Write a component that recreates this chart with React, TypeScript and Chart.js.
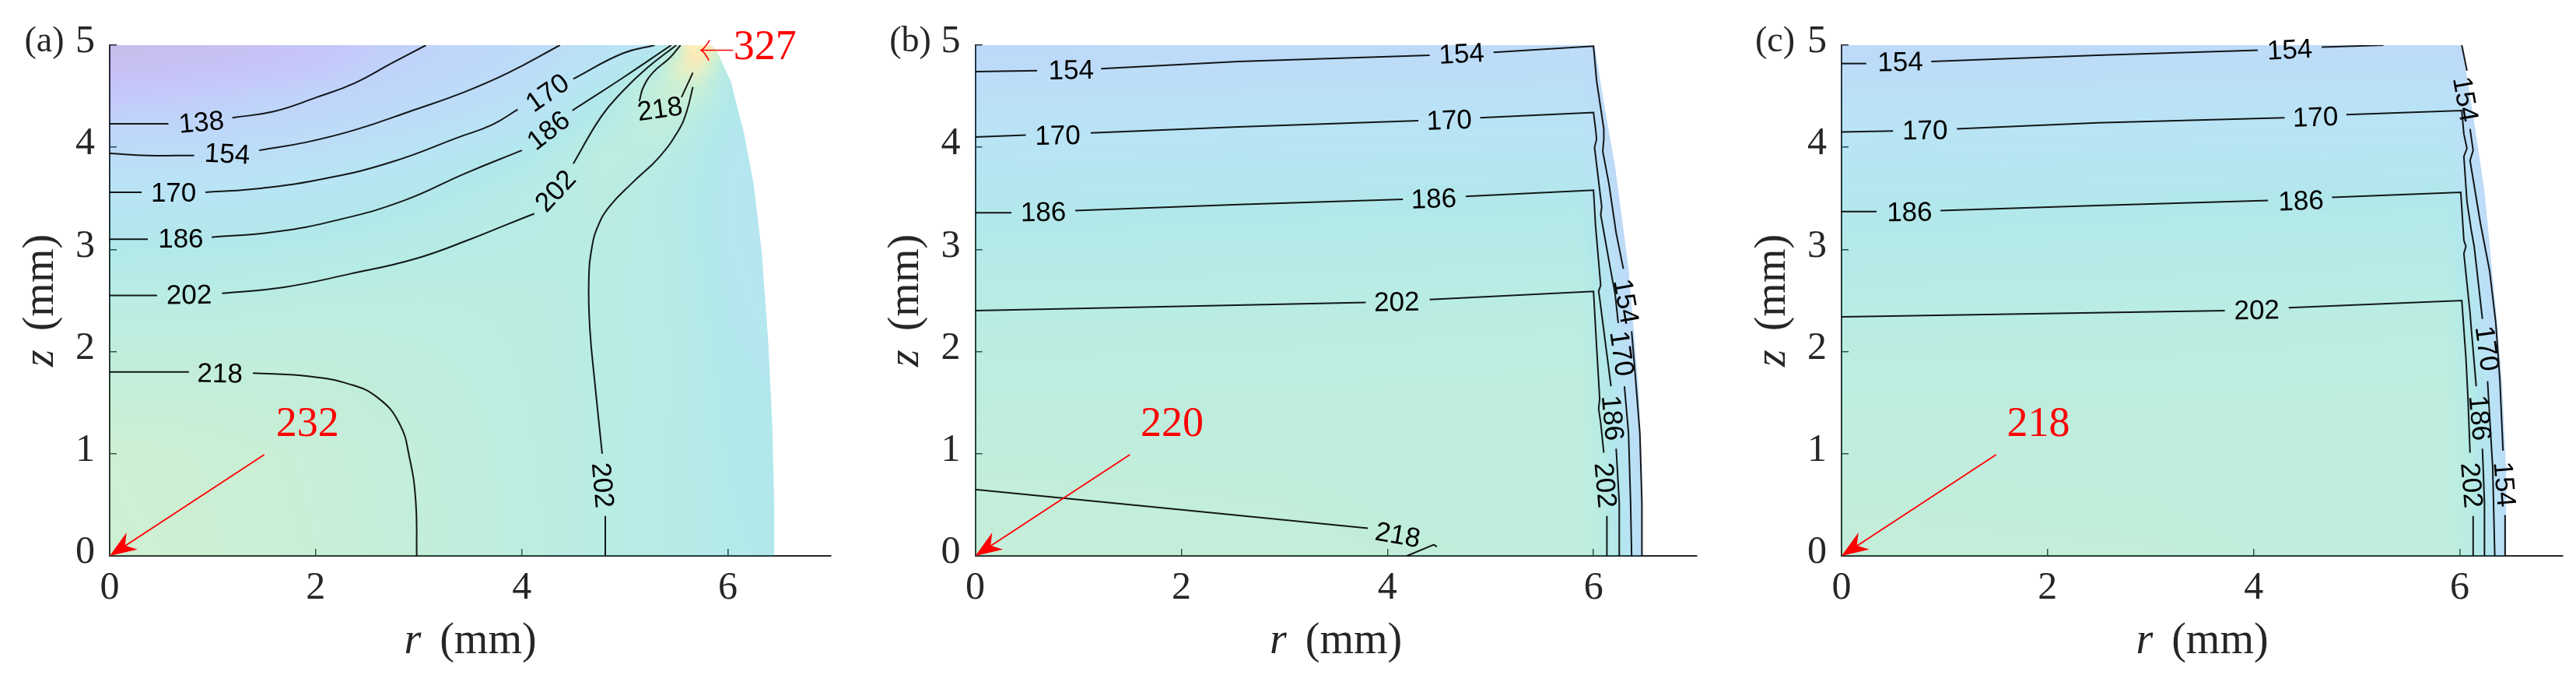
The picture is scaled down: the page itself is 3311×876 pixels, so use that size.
import React, { useEffect, useRef } from "react";
import { Chart, registerables } from "chart.js";

Chart.register(...registerables);

// ---- colour scale (temperature -> saturated colour, painted with fieldAlpha)
const stopT = [120, 128, 138, 154, 170, 186, 202, 218, 232, 255, 275, 300, 327];
const stopColor = [
  [72, 38, 188], [66, 60, 238], [45, 112, 238], [35, 138, 232], [22, 165, 222], [0, 178, 192],
  [22, 192, 165], [55, 198, 132], [98, 205, 105], [188, 205, 55], [255, 165, 5], [255, 205, 38], [255, 238, 55],
];
const fieldAlpha = 77;

// ---- panel (a)
const aFieldR = [0, 1, 2, 3, 4, 4.8, 5.3, 5.5, 5.7, 6, 6.5];
const aFieldZ = [0, 1, 1.8, 2.55, 3.1, 3.56, 3.93, 4.24, 4.6, 4.8, 5];
const aField = [
  [232, 228, 224, 218, 208, 202, 198, 196, 195, 190, 188],
  [230, 227, 223, 217, 207, 202, 198, 196, 194, 189, 186],
  [218, 218, 217, 212, 206, 202, 199, 197, 194, 187, 184],
  [202, 202, 205, 206, 205, 202, 198, 196, 192, 184, 178],
  [186, 187, 190, 196, 200, 203, 198, 195, 190, 182, 176],
  [170, 172, 177, 185, 197, 206, 198, 194, 190, 182, 176],
  [154, 156, 163, 172, 186, 208, 204, 198, 192, 183, 176],
  [138, 141, 148, 157, 171, 196, 216, 212, 198, 186, 178],
  [128, 131, 135, 145, 158, 183, 218, 232, 228, 190, 180],
  [123, 126, 130, 140, 153, 172, 196, 245, 265, 192, 182],
  [120, 122, 128, 137, 150, 165, 172, 205, 327, 195, 185],
];
const aOutlineR = [6.45, 6.45, 6.43, 6.39, 6.33, 6.25, 6.16, 6.03, 5.89, 5.84];
const aOutlineZ = [0, 0.5, 1.31, 2.12, 2.96, 3.64, 4.12, 4.64, 4.95, 5];
const a138 = [
  [[0, 4.23], [0.57, 4.23]],
  [[1.19, 4.29], [1.59, 4.35], [2.01, 4.49], [2.38, 4.63], [2.73, 4.82], [3.07, 5]],
];
const a154 = [
  [[0, 3.94], [0.37, 3.92], [0.82, 3.92]],
  [[1.45, 3.97], [1.91, 4.05], [2.38, 4.17], [2.91, 4.35], [3.44, 4.54], [3.87, 4.73], [4.37, 5]],
];
const a170 = [
  [[0, 3.56], [0.31, 3.56]],
  [[0.93, 3.56], [1.48, 3.6], [2.12, 3.7], [2.75, 3.86], [3.39, 4.1], [3.71, 4.22], [3.96, 4.37]],
  [[4.5, 4.67], [4.98, 4.92], [5.29, 5]],
];
const a186 = [
  [[0, 3.1], [0.37, 3.1]],
  [[0.99, 3.12], [1.59, 3.17], [2.22, 3.29], [2.86, 3.48], [3.44, 3.74], [4, 3.97]],
  [[4.49, 4.36], [4.98, 4.68], [5.45, 5]],
];
const a202 = [
  [[0, 2.55], [0.46, 2.55]],
  [[1.09, 2.57], [1.69, 2.63], [2.33, 2.76], [2.97, 2.91], [3.5, 3.1], [3.87, 3.25], [4.12, 3.35]],
  [[4.5, 3.84], [4.77, 4.3], [4.98, 4.55], [5.22, 4.78], [5.5, 5]],
  [[5.66, 4.59], [5.6, 4.35], [5.53, 4.18], [5.33, 3.9], [5.07, 3.65], [4.85, 3.42], [4.74, 3.23], [4.68, 3.02], [4.65, 2.7], [4.66, 2.23], [4.71, 1.68], [4.78, 1]],
  [[4.81, 0.39], [4.81, 0]],
];
const a218 = [
  [[0, 1.8], [0.77, 1.8]],
  [[1.39, 1.79], [1.91, 1.76], [2.33, 1.68], [2.6, 1.55], [2.81, 1.3], [2.91, 0.96], [2.97, 0.54], [2.98, 0]],
  [[5.54, 5], [5.43, 4.87], [5.28, 4.74], [5.18, 4.59], [5.14, 4.45]],
  [[5.55, 4.49], [5.66, 4.73]],
];
const aLabels: [string, number, number, number][] = [
  ["138", 0.89, 4.24, -5], ["154", 1.14, 3.93, 3], ["170", 0.62, 3.55, 0], ["186", 0.69, 3.1, 0],
  ["202", 0.77, 2.55, -1], ["218", 1.07, 1.78, 1], ["170", 4.25, 4.53, -35], ["186", 4.26, 4.16, -38],
  ["202", 4.33, 3.57, -47], ["218", 5.34, 4.37, -8], ["202", 4.78, 0.69, 85],
];

// ---- panel (b)
const bFieldR = [0, 3, 5.9, 6.1, 6.2, 6.3, 6.4, 6.5];
const bFieldZ = [0, 0.65, 1.5, 2.4, 3.36, 4.08, 4.74, 5];
const bField = [
  [220, 219, 213, 204, 193, 180, 165, 150],
  [218, 216, 210, 203, 186, 176, 163, 152],
  [210, 211, 212, 197, 183, 171, 158, 150],
  [202, 203, 205, 186, 172, 156, 150, 150],
  [186, 188, 190, 168, 155, 150, 150, 150],
  [170, 172, 173, 155, 150, 150, 150, 150],
  [154, 156, 158, 150, 150, 150, 150, 150],
  [148, 150, 153, 150, 150, 150, 150, 150],
];
const bOutlineR = [6.47, 6.47, 6.44, 6.34, 6.21, 6.11, 6.01];
const bOutlineZ = [0, 0.86, 1.61, 2.82, 3.81, 4.38, 5];
const b154 = [
  [[0, 4.74], [0.6, 4.75]],
  [[1.22, 4.77], [2.55, 4.84], [4.41, 4.9]],
  [[5.03, 4.93], [6, 4.99], [6.03, 4.65], [6.1, 4.18], [6.1, 4.08], [6.09, 3.96], [6.15, 3.64], [6.22, 3.16], [6.29, 2.81]],
  [[6.37, 2.2], [6.41, 1.71], [6.45, 1.2], [6.47, 0.52], [6.47, 0]],
];
const b170 = [
  [[0, 4.1], [0.49, 4.12]],
  [[1.12, 4.14], [2.55, 4.2], [4.3, 4.26]],
  [[4.9, 4.29], [6, 4.34], [6.02, 4.18], [6.03, 4.08], [6.01, 4], [6.07, 3.5], [6.08, 3.42], [6.07, 3.34], [6.15, 2.89], [6.21, 2.56], [6.24, 2.28]],
  [[6.3, 1.66], [6.34, 1.2], [6.36, 0.52], [6.37, 0]],
];
const b186 = [
  [[0, 3.36], [0.35, 3.36]],
  [[0.97, 3.38], [2.55, 3.44], [4.15, 3.49]],
  [[4.76, 3.52], [6, 3.58], [6.02, 3.23], [6.06, 2.76], [6.07, 2.65], [6.05, 2.59], [6.06, 2.52], [6.12, 2.05], [6.17, 1.66]],
  [[6.22, 1.05], [6.25, 0.52], [6.25, 0]],
];
const b202 = [
  [[0, 2.4], [3.79, 2.48]],
  [[4.41, 2.51], [6, 2.59], [6.03, 2.05], [6.06, 1.54], [6.05, 1.44], [6.07, 1.3], [6.1, 1.01]],
  [[6.13, 0.39], [6.13, 0]],
];
const b218 = [
  [[0, 0.65], [2.02, 0.45], [3.81, 0.27]],
  [[4.19, 0], [4.45, 0.11], [4.48, 0.09]],
];
const bLabels: [string, number, number, number][] = [
  ["154", 0.93, 4.75, -1], ["154", 4.72, 4.91, -3], ["170", 0.8, 4.11, -1], ["170", 4.6, 4.26, -2],
  ["186", 0.66, 3.36, -1], ["186", 4.45, 3.49, -2], ["202", 4.09, 2.48, -1], ["218", 4.1, 0.2, 10],
  ["154", 6.31, 2.49, 80], ["170", 6.27, 1.98, 82], ["186", 6.18, 1.35, 85], ["202", 6.11, 0.69, 85],
];

// ---- panel (c)
const cFieldR = [0, 3, 5.9, 6.1, 6.2, 6.3, 6.4, 6.5];
const cFieldZ = [0, 0.65, 1.5, 2.34, 3.37, 4.15, 4.82, 5];
const cField = [
  [218, 217, 212, 204, 192, 178, 162, 150],
  [216, 215, 210, 203, 186, 175, 162, 152],
  [210, 210, 211, 197, 183, 171, 158, 150],
  [202, 203, 205, 186, 172, 156, 150, 150],
  [186, 188, 190, 170, 156, 150, 150, 150],
  [170, 172, 173, 155, 150, 150, 150, 150],
  [154, 156, 157, 150, 150, 150, 150, 150],
  [150, 152, 153, 150, 150, 150, 150, 150],
];
const cOutlineR = [6.45, 6.45, 6.41, 6.35, 6.24, 6.14, 6.02];
const cOutlineZ = [0, 0.86, 1.71, 2.42, 3.57, 4.25, 5];
const c154 = [
  [[0, 4.82], [0.24, 4.82]],
  [[0.87, 4.84], [2.48, 4.9], [4.04, 4.95]],
  [[4.66, 4.98], [5.26, 5]],
  [[6.02, 5], [6.07, 4.75]],
  [[6.1, 4.18], [6.13, 3.97], [6.1, 3.87], [6.2, 3.26], [6.29, 2.79], [6.35, 2.28], [6.39, 1.71], [6.42, 1.03]],
  [[6.44, 0.4], [6.44, 0]],
];
const c170 = [
  [[0, 4.15], [0.5, 4.16]],
  [[1.12, 4.18], [2.48, 4.24], [4.3, 4.29]],
  [[4.9, 4.32], [6.02, 4.36], [6.04, 4.13], [6.07, 3.99], [6.04, 3.91], [6.07, 3.47], [6.11, 3.2], [6.14, 3.03], [6.22, 2.32]],
  [[6.27, 1.71], [6.32, 0.86], [6.34, 0]],
];
const c186 = [
  [[0, 3.37], [0.34, 3.37]],
  [[0.96, 3.38], [2.48, 3.43], [4.14, 3.48]],
  [[4.76, 3.51], [6.01, 3.56], [6.04, 3.09], [6.06, 3.03], [6.04, 2.96], [6.1, 2.38], [6.11, 2.25], [6.16, 1.66]],
  [[6.22, 1.05], [6.24, 0.52], [6.24, 0]],
];
const c202 = [
  [[0, 2.34], [3.72, 2.4]],
  [[4.34, 2.43], [6.02, 2.5], [6.06, 1.94], [6.08, 1.54], [6.1, 1.01]],
  [[6.13, 0.39], [6.13, 0]],
];
const cLabels: [string, number, number, number][] = [
  ["154", 0.57, 4.83, -1], ["154", 4.35, 4.95, -3], ["170", 0.81, 4.16, -1], ["170", 4.6, 4.29, -2],
  ["186", 0.66, 3.36, -1], ["186", 4.46, 3.47, -2], ["202", 4.03, 2.4, -1],
  ["154", 6.05, 4.47, 80], ["170", 6.26, 2.03, 82], ["186", 6.19, 1.35, 85], ["202", 6.11, 0.69, 85], ["154", 6.43, 0.7, 85],
];

const xTickStep = 2;
const yTickStep = 1;

const inkColor = "rgb(38,38,38)";
const serif = '"Liberation Serif", serif';
const labelSans = '"Liberation Sans", Arial, sans-serif';

function colorFor(t: number) {
  let i = 0;
  while (i < stopT.length - 2 && t > stopT[i + 1]) i++;
  const f = Math.max(0, Math.min(1, (t - stopT[i]) / (stopT[i + 1] - stopT[i])));
  return stopColor[i].map((c, k) => c + (stopColor[i + 1][k] - c) * f);
}

function segIndex(arr: number[], v: number) {
  let i = 0;
  while (i < arr.length - 2 && v > arr[i + 1]) i++;
  return i;
}

const panels = [
  {
    tag: "(a)", left: 0, width: 1100, axisLeft: 141, tagX: 57, blur: 6,
    fieldR: aFieldR, fieldZ: aFieldZ, field: aField, outlineR: aOutlineR, outlineZ: aOutlineZ,
    contours: [a138, a154, a170, a186, a202, a218], labels: aLabels, tension: 0.45,
    maxText: "232", maxR: 1.92, hotText: "327", hotR: 5.74, hotZ: 4.95,
  },
  {
    tag: "(b)", left: 1100, width: 1110, axisLeft: 153.6, tagX: 70, blur: 2,
    fieldR: bFieldR, fieldZ: bFieldZ, field: bField, outlineR: bOutlineR, outlineZ: bOutlineZ,
    contours: [b154, b170, b186, b202, b218], labels: bLabels, tension: 0,
    maxText: "220", maxR: 1.91,
  },
  {
    tag: "(c)", left: 2210, width: 1101, axisLeft: 157, tagX: 71.5, blur: 2,
    fieldR: cFieldR, fieldZ: cFieldZ, field: cField, outlineR: cOutlineR, outlineZ: cOutlineZ,
    contours: [c154, c170, c186, c202], labels: cLabels, tension: 0,
    maxText: "218", maxR: 1.91,
  },
];

// paints the temperature field inside the drop outline
const fieldPlugin = {
  id: "fieldPlugin",
  beforeDatasetsDraw(chart: any, _args: any, opts: any) {
    const { ctx, chartArea, scales } = chart;
    const { fieldR, fieldZ, field, outlineR, outlineZ, blur } = opts.panel;
    const margin = 30;
    const w = Math.ceil(chartArea.width) + margin * 2;
    const h = Math.ceil(chartArea.height) + margin * 2;
    const off = document.createElement("canvas");
    off.width = w;
    off.height = h;
    const octx = off.getContext("2d")!;
    const img = octx.createImageData(w, h);
    for (let py = 0; py < h; py++) {
      const z = scales.y.getValueForPixel(chartArea.top - margin + py + 0.5);
      const j = segIndex(fieldZ, z);
      const fz = Math.max(0, Math.min(1, (z - fieldZ[j]) / (fieldZ[j + 1] - fieldZ[j])));
      for (let px = 0; px < w; px++) {
        const r = scales.x.getValueForPixel(chartArea.left - margin + px + 0.5);
        const i = segIndex(fieldR, r);
        const fr = Math.max(0, Math.min(1, (r - fieldR[i]) / (fieldR[i + 1] - fieldR[i])));
        const t =
          field[j][i] * (1 - fr) * (1 - fz) +
          field[j][i + 1] * fr * (1 - fz) +
          field[j + 1][i] * (1 - fr) * fz +
          field[j + 1][i + 1] * fr * fz;
        const c = colorFor(t);
        const o = (py * w + px) * 4;
        img.data[o] = c[0];
        img.data[o + 1] = c[1];
        img.data[o + 2] = c[2];
        img.data[o + 3] = fieldAlpha;
      }
    }
    octx.putImageData(img, 0, 0);
    ctx.save();
    ctx.beginPath();
    ctx.moveTo(scales.x.getPixelForValue(0), scales.y.getPixelForValue(0));
    outlineR.forEach((r: number, k: number) => {
      ctx.lineTo(scales.x.getPixelForValue(r), scales.y.getPixelForValue(outlineZ[k]));
    });
    ctx.lineTo(scales.x.getPixelForValue(0), scales.y.getPixelForValue(5));
    ctx.closePath();
    ctx.clip();
    ctx.filter = `blur(${blur}px)`;
    ctx.drawImage(off, chartArea.left - margin, chartArea.top - margin);
    ctx.filter = "none";
    ctx.restore();
  },
};

// contour labels, red arrows and all the math-style text
const textPlugin = {
  id: "textPlugin",
  afterDatasetsDraw(chart: any, _args: any, opts: any) {
    const { ctx, chartArea, scales } = chart;
    const p = opts.panel;
    const X = (v: number) => scales.x.getPixelForValue(v);
    const Y = (v: number) => scales.y.getPixelForValue(v);
    ctx.save();

    ctx.textAlign = "center";
    ctx.textBaseline = "middle";
    ctx.fillStyle = "#000";
    ctx.font = `35px ${labelSans}`;
    p.labels.forEach(([text, r, z, rot]: [string, number, number, number]) => {
      ctx.save();
      ctx.translate(X(r), Y(z));
      ctx.rotate((rot * Math.PI) / 180);
      ctx.fillText(text, 0, 1);
      ctx.restore();
    });

    // big arrow to the axis peak
    ctx.strokeStyle = "#ff0000";
    ctx.fillStyle = "#ff0000";
    ctx.lineWidth = 1.8;
    const tipX = X(0);
    const tipY = Y(0);
    ctx.beginPath();
    ctx.moveTo(X(1.5), Y(0.99));
    ctx.lineTo(tipX + 20, tipY - 13);
    ctx.stroke();
    ctx.beginPath();
    ctx.moveTo(tipX, tipY);
    ctx.lineTo(tipX + 21.7, tipY - 30);
    ctx.lineTo(tipX + 19.7, tipY - 13.3);
    ctx.lineTo(tipX + 35.7, tipY - 8.3);
    ctx.closePath();
    ctx.fill();
    ctx.font = `54px ${serif}`;
    ctx.fillText(p.maxText, X(p.maxR), Y(1.28));

    if (p.hotText) {
      const hx = X(p.hotR);
      const hy = Y(p.hotZ);
      ctx.lineWidth = 1.6;
      ctx.beginPath();
      ctx.moveTo(X(6.05), hy);
      ctx.lineTo(hx, hy);
      ctx.moveTo(hx + 11, hy - 13);
      ctx.quadraticCurveTo(hx + 5, hy - 3, hx, hy);
      ctx.quadraticCurveTo(hx + 5, hy + 3, hx + 10, hy + 13);
      ctx.stroke();
      ctx.fillText(p.hotText, X(6.36), hy - 3);
    }

    // axis titles and panel tag
    ctx.fillStyle = inkColor;
    ctx.font = `46px ${serif}`;
    ctx.fillText(p.tag, p.tagX, 54);

    const drawMath = (v: string, cx: number, cy: number) => {
      ctx.textAlign = "left";
      ctx.font = `italic 56px ${serif}`;
      const vw = ctx.measureText(v).width;
      ctx.font = `56px ${serif}`;
      const uw = ctx.measureText(" (mm)").width;
      const sx = cx - (vw + uw + 10) / 2;
      ctx.font = `italic 56px ${serif}`;
      ctx.fillText(v, sx, cy);
      ctx.font = `56px ${serif}`;
      ctx.fillText(" (mm)", sx + vw + 10, cy);
    };
    drawMath("r", X(3.5), 824);
    ctx.save();
    ctx.translate(p.axisLeft - 88, (chartArea.top + chartArea.bottom) / 2);
    ctx.rotate(-Math.PI / 2);
    drawMath("z", 0, 0);
    ctx.restore();

    ctx.restore();
  },
};

function ContourPanel({ panel }: { panel: (typeof panels)[number] }) {
  const canvasRef = useRef<HTMLCanvasElement | null>(null);

  useEffect(() => {
    const canvas = canvasRef.current;
    if (!canvas) return;

    const datasets = panel.contours.flat().map((segment: number[][]) => ({
      data: segment.map(([x, y]) => ({ x, y })),
      showLine: true,
      borderColor: "rgba(0,0,0,0.9)",
      borderWidth: 2,
      pointRadius: 0,
      tension: panel.tension,
    }));

    const chart = new Chart(canvas, {
      type: "scatter",
      data: { datasets },
      options: {
        responsive: false,
        animation: false,
        devicePixelRatio: 1,
        layout: { padding: { top: 54.7, right: panel.width - (panel.axisLeft + 927), left: 0, bottom: 0 } },
        plugins: {
          legend: { display: false },
          tooltip: { enabled: false },
          fieldPlugin: { panel },
          textPlugin: { panel },
        } as any,
        scales: {
          x: {
            type: "linear",
            min: 0,
            max: 7,
            afterFit: (scale: any) => {
              scale.height = 162;
            },
            border: { display: true, color: inkColor, width: 2 },
            grid: { drawOnChartArea: false, drawTicks: true, tickLength: -9, color: inkColor, lineWidth: 1.5 },
            ticks: {
              stepSize: xTickStep,
              includeBounds: false,
              maxRotation: 0,
              padding: 21,
              color: inkColor,
              font: { family: serif, size: 50 },
            },
          },
          y: {
            type: "linear",
            min: 0,
            max: 5,
            afterFit: (scale: any) => {
              scale.width = panel.axisLeft;
            },
            border: { display: true, color: inkColor, width: 2 },
            grid: { drawOnChartArea: false, drawTicks: true, tickLength: -9, color: inkColor, lineWidth: 1.5 },
            ticks: {
              stepSize: yTickStep,
              padding: 28,
              labelOffset: -4,
              color: inkColor,
              font: { family: serif, size: 50 },
            },
          },
        },
      } as any,
      plugins: [fieldPlugin, textPlugin],
    });

    return () => {
      chart.destroy();
    };
  }, [panel]);

  return (
    <canvas
      ref={canvasRef}
      width={panel.width}
      height={876}
      style={{ position: "absolute", left: panel.left, top: 0, width: panel.width, height: 876 }}
    />
  );
}

export default function App() {
  return (
    <div style={{ position: "absolute", left: 0, top: 0, width: 3311, height: 876, background: "#fff", overflow: "hidden" }}>
      {panels.map((p) => (
        <ContourPanel key={p.tag} panel={p} />
      ))}
    </div>
  );
}
